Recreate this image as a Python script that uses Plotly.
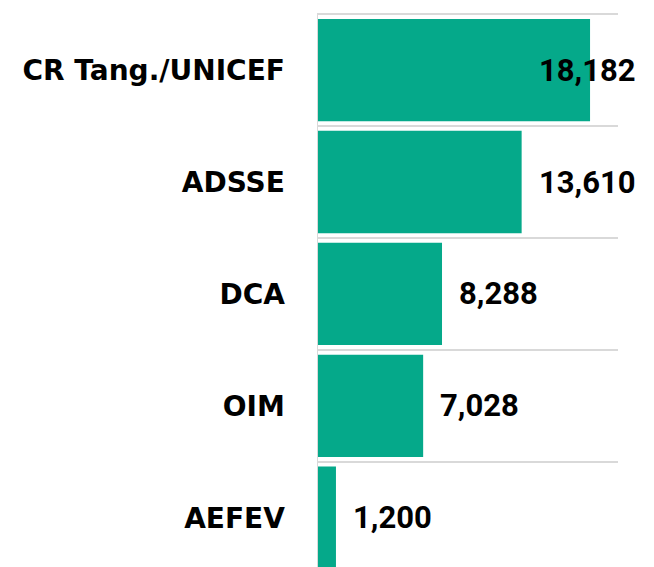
import plotly.graph_objects as go

categories = ["CR Tang./UNICEF", "ADSSE", "DCA", "OIM", "AEFEV"]
values = [18182, 13610, 8288, 7028, 1200]
value_labels = ["18,182", "13,610", "8,288", "7,028", "1,200"]

BAR_COLOR = "#05a98a"
CAT_FONT = "DejaVu Sans"
VAL_FONT = "Roboto"

fig = go.Figure(
    go.Bar(
        x=values,
        y=categories,
        orientation="h",
        marker=dict(color=BAR_COLOR, line=dict(width=0)),
        hoverinfo="skip",
    )
)

xmax = 20050
for v, lab, cat in zip(values, value_labels, categories):
    overflow = v > 0.85 * xmax
    fig.add_annotation(
        x=v, y=cat, xref="x", yref="y",
        text=f"<b>{lab}</b>",
        showarrow=False,
        xanchor="right" if overflow else "left",
        xshift=48 if overflow else 15,
        font=dict(family=VAL_FONT, size=31, color="black"),
    )

fig.update_layout(
    width=654, height=567,
    margin=dict(l=318, r=36, t=13, b=0, autoexpand=False),
    paper_bgcolor="white", plot_bgcolor="white",
    bargap=0.085,
    showlegend=False,
    xaxis=dict(range=[0, xmax], showgrid=False, zeroline=False,
               showticklabels=False, showline=False, fixedrange=True,
               automargin=False),
    yaxis=dict(
        type="category",
        range=[4.44, -0.51],
        tickson="boundaries",
        automargin=False,
        fixedrange=True,
        showgrid=True, gridcolor="#d9d9d9", gridwidth=1.5,
        showline=True, linecolor="#d9d9d9", linewidth=1.5,
        ticks="", ticklabelstandoff=26,
        tickfont=dict(family=CAT_FONT, size=28, color="black", weight="bold"),
    ),
)

fig.write_html(
    "out.html",
    config={"displayModeBar": False, "staticPlot": True},
    post_script="document.body.style.margin='0';document.body.style.overflow='hidden';",
)
